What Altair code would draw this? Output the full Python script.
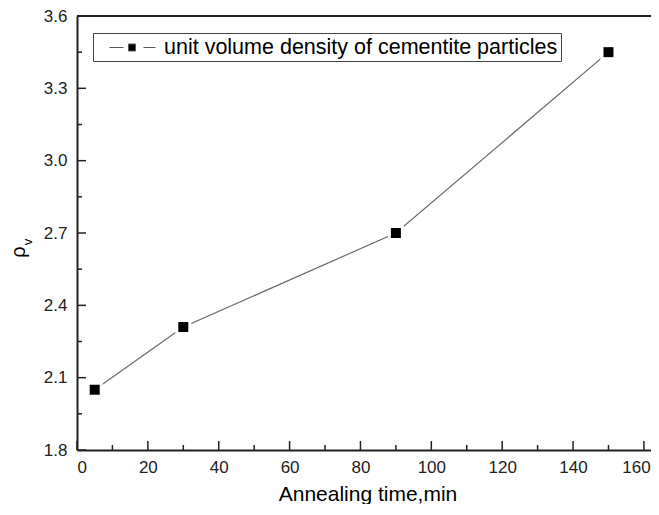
import altair as alt
import pandas as pd

# ---- data ----
time_min = [5, 30, 90, 150]
rho_v = [2.05, 2.31, 2.70, 3.45]
series_name = "unit volume density of cementite particles"

x_major = [0, 20, 40, 60, 80, 100, 120, 140, 160]
x_minor = [10, 30, 50, 70, 90, 110, 130, 150]
y_major = [1.8, 2.1, 2.4, 2.7, 3.0, 3.3, 3.6]
y_minor = [1.95, 2.25, 2.55, 2.85, 3.15, 3.45]

x_title = ["Annealing time,min"]
y_title_main = ["ρ"]
y_title_sub = ["v"]

df = pd.DataFrame({"t": time_min, "rho": rho_v, "series": [series_name] * len(time_min)})

W, H = 574, 434
FONT = "Liberation Sans"
AX = "#222222"

xscale = alt.Scale(domain=[0, 162], nice=False, zero=False)
yscale = alt.Scale(domain=[1.8, 3.6], nice=False, zero=False)

x_axis = alt.Axis(values=x_major, format="d", ticks=False, grid=False,
                  labelFontSize=17, labelPadding=9, labelFont=FONT, labelColor=AX,
                  labelOffset={"condition": {"test": "datum.value === 160", "value": -8}, "value": 0},
                  domainColor=AX, domainWidth=2, title=None)
y_axis = alt.Axis(values=y_major, format=".1f", ticks=False, grid=False,
                  labelFontSize=17, labelPadding=10, labelFont=FONT, labelColor=AX,
                  domainColor=AX, domainWidth=2, title=None)


def X(field):
    return alt.X(field, scale=xscale, axis=x_axis)


def Y(field):
    return alt.Y(field, scale=yscale, axis=y_axis)


top_frame = alt.Chart(pd.DataFrame({"v": [0]})).mark_rule(color=AX, strokeWidth=2).encode(
    x=alt.value(0), x2=alt.value(W + 8), y=alt.value(0))

line = alt.Chart(df).mark_line(color="#6a6a6a", strokeWidth=1.2).encode(
    x=X("t:Q"), y=Y("rho:Q"))

halo = alt.Chart(df).mark_square(filled=True, size=256, color="white", opacity=1).encode(
    x=X("t:Q"), y=Y("rho:Q"))

legend_path = ("M0.182,0 L1.455,0 "
               "M1.909,-0.318 L2.545,-0.318 L2.545,0.318 L1.909,0.318 Z "
               "M3.273,0 L4.364,0")

points = alt.Chart(df).mark_square(filled=True, size=100, opacity=1).encode(
    x=X("t:Q"), y=Y("rho:Q"),
    color=alt.Color("series:N", scale=alt.Scale(range=["black"]),
                    legend=alt.Legend(orient="none", legendX=16, legendY=17, title=None,
                                      strokeColor="#444", fillColor="white", padding=3,
                                      symbolType=legend_path, symbolSize=484,
                                      symbolFillColor="black", symbolStrokeColor="#555",
                                      symbolStrokeWidth=1, labelFontSize=21.5, labelFont=FONT,
                                      labelColor="black", labelOffset=45, labelLimit=0)),
)

xmaj = alt.Chart(pd.DataFrame({"v": x_major})).mark_rule(color=AX, strokeWidth=1.5).encode(
    x=X("v:Q"), y=alt.value(H), y2=alt.value(H - 9))
xmin = alt.Chart(pd.DataFrame({"v": x_minor})).mark_rule(color=AX, strokeWidth=1.5).encode(
    x=X("v:Q"), y=alt.value(H), y2=alt.value(H - 5))
ymaj = alt.Chart(pd.DataFrame({"v": y_major})).mark_rule(color=AX, strokeWidth=1.5).encode(
    y=Y("v:Q"), x=alt.value(0), x2=alt.value(9))
ymin = alt.Chart(pd.DataFrame({"v": y_minor})).mark_rule(color=AX, strokeWidth=1.5).encode(
    y=Y("v:Q"), x=alt.value(0), x2=alt.value(5))

xt = alt.Chart(pd.DataFrame({"label": x_title})).mark_text(
    font=FONT, fontSize=21, color="black", align="center", baseline="alphabetic").encode(
    text="label:N", x=alt.value(291), y=alt.value(485))
yt1 = alt.Chart(pd.DataFrame({"label": y_title_main})).mark_text(
    font=FONT, fontSize=20, color="black", align="center", baseline="alphabetic", angle=270).encode(
    text="label:N", x=alt.value(-52), y=alt.value(236))
yt2 = alt.Chart(pd.DataFrame({"label": y_title_sub})).mark_text(
    font=FONT, fontSize=13, color="black", align="center", baseline="alphabetic", angle=270).encode(
    text="label:N", x=alt.value(-45), y=alt.value(226))

chart = alt.layer(top_frame, line, halo, points, xmaj, xmin, ymaj, ymin, xt, yt1, yt2).properties(
    width=W, height=H,
    padding={"left": 69, "top": 8, "right": 0, "bottom": 54},
    autosize=alt.AutoSizeParams(type="none"),
).configure_view(strokeWidth=0).configure(background="white")

chart.save("out.html", embed_options={"renderer": "svg", "actions": False})
